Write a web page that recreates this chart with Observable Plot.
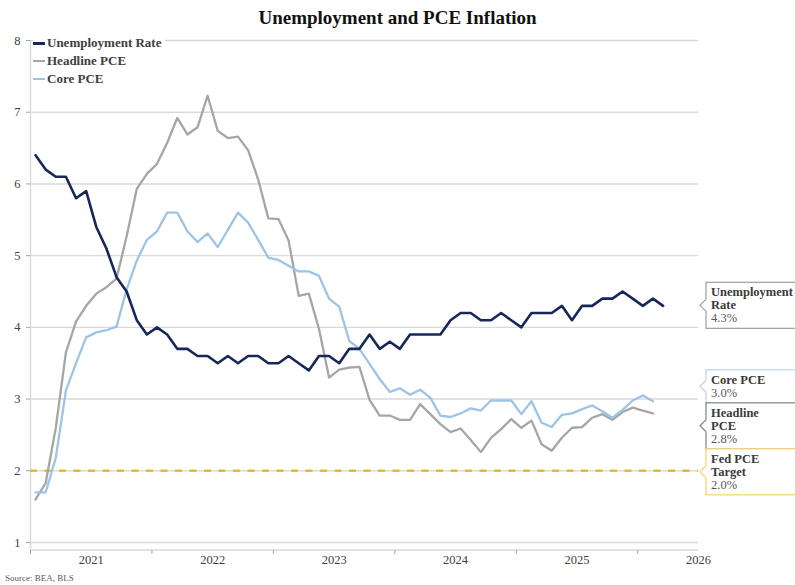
<!DOCTYPE html>
<html>
<head>
<meta charset="utf-8">
<script src="https://cdn.jsdelivr.net/npm/d3@7"></script>
<script src="https://cdn.jsdelivr.net/npm/@observablehq/plot@0.6"></script>
<style>
  body { margin: 0; background: #fff; }
  #wrap { position: relative; width: 795px; height: 585px; overflow: hidden; background: #fff;
          font-family: "Liberation Serif", "DejaVu Serif", serif; }
  #chart { position: absolute; left: 0; top: 0; }
  #title { position: absolute; top: 6px; left: 0; width: 795px; text-align: center; line-height: 24px;
           font-weight: bold; font-size: 19px; color: #111; }
  #legend { position: absolute; left: 33px; top: 34px; background: #fff; padding: 0 4px 0 0; }
  .row { display: flex; align-items: center; height: 18px; font-size: 13px; font-weight: bold; color: #404040; }
  .sw { width: 12px; margin-right: 2px; }
  #source { position: absolute; left: 5px; top: 572px; font-size: 9px; line-height: 12px; color: #595959; }
</style>
</head>
<body>
<div id="wrap">
  <div id="chart"></div>
  <div id="title">Unemployment and PCE Inflation</div>
  <div id="legend"></div>
  <div id="source">Source: BEA, BLS</div>
</div>
<script>
// ---- data (monthly, starting January 2021) ----
const startYear = 2021;
const axisMonths = 66;
const unemployment = [
  6.4, 6.2, 6.1, 6.1, 5.8, 5.9, 5.4, 5.1, 4.7, 4.5, 4.1, 3.9,
  4.0, 3.9, 3.7, 3.7, 3.6, 3.6, 3.5, 3.6, 3.5, 3.6, 3.6, 3.5,
  3.5, 3.6, 3.5, 3.4, 3.6, 3.6, 3.5, 3.7, 3.7, 3.9, 3.7, 3.8,
  3.7, 3.9, 3.9, 3.9, 3.9, 4.1, 4.2, 4.2, 4.1, 4.1, 4.2, 4.1,
  4.0, 4.2, 4.2, 4.2, 4.3, 4.1, 4.3, 4.3, 4.4, 4.4, 4.5, 4.4,
  4.3, 4.4, 4.3
];
const headlinePCE = [
  1.6, 1.83, 2.6, 3.65, 4.08, 4.3, 4.47, 4.56, 4.68, 5.27, 5.93, 6.14,
  6.28, 6.57, 6.92, 6.69, 6.79, 7.23, 6.74, 6.64, 6.66, 6.47, 6.06, 5.52,
  5.51, 5.21, 4.44, 4.47, 3.98, 3.3, 3.41, 3.44, 3.45, 2.99, 2.77, 2.77,
  2.71, 2.71, 2.93, 2.79, 2.65, 2.54, 2.59, 2.43, 2.26, 2.46, 2.58, 2.72,
  2.6, 2.7, 2.37, 2.28, 2.46, 2.6, 2.61, 2.74, 2.79, 2.71, 2.82, 2.88,
  2.84, 2.8
];
const corePCE = [
  1.7, 1.7, 2.18, 3.12, 3.5, 3.86, 3.93, 3.96, 4.01, 4.53, 4.93, 5.22,
  5.34, 5.6, 5.6, 5.34, 5.19, 5.31, 5.12, 5.36, 5.6, 5.46, 5.22, 4.97,
  4.94, 4.86, 4.78, 4.78, 4.72, 4.4, 4.29, 3.81, 3.7, 3.49, 3.28, 3.1,
  3.15, 3.06, 3.13, 3.02, 2.77, 2.75, 2.8, 2.87, 2.84, 2.98, 2.98, 2.98,
  2.79, 2.97, 2.67, 2.61, 2.78, 2.8, 2.86, 2.91, 2.83, 2.74, 2.85, 2.98,
  3.05, 2.97
];
const fedTarget = 2.0;
const yTicks = [1, 2, 3, 4, 5, 6, 7, 8];
const yearLabels = ["2021", "2022", "2023", "2024", "2025", "2026"];
const legendNames = ["Unemployment Rate", "Headline PCE", "Core PCE"];
const calloutNames = [["Unemployment", "Rate"], ["Core PCE"], ["Headline", "PCE"], ["Fed PCE", "Target"]];

// ---- styles ----
const navy = "#16285a", gray = "#a6a6a6", blue = "#9dc3e6", gold = "#f4b526";
const gridColor = "#d9d9d9";

const seriesList = [
  {name: legendNames[1], values: headlinePCE, color: gray, width: 2.3},
  {name: legendNames[2], values: corePCE, color: blue, width: 2.3},
  {name: legendNames[0], values: unemployment, color: navy, width: 2.6}
];

const last = (arr) => arr[arr.length - 1];
const callouts = [
  {lines: calloutNames[0], value: last(unemployment), color: "#a6a6a6"},
  {lines: calloutNames[1], value: last(corePCE), color: "#bdd7ee"},
  {lines: calloutNames[2], value: last(headlinePCE), color: "#8c8c8c"},
  {lines: calloutNames[3], value: fedTarget, color: "#f7d57a"}
];

// bottom axis line (frame bottom)
function bottomAxisLine(index, scales, values, dims) {
  const g = d3.create("svg:g");
  g.append("line")
    .attr("x1", dims.marginLeft).attr("x2", dims.width - dims.marginRight)
    .attr("y1", dims.height - dims.marginBottom).attr("y2", dims.height - dims.marginBottom)
    .attr("stroke", gridColor).attr("stroke-width", 1.4);
  return g.node();
}

// callout boxes on the right
function calloutMark(index, scales, values, dims) {
  const g = d3.create("svg:g").attr("text-anchor", "start");
  const xLeft = dims.width - dims.marginRight + 8;
  const lh = 13, pad = 10;
  const items = callouts.map((d) => {
    const n = d.lines.length + 1;
    return {...d, n, h: lh * (n - 1) + 2 * pad, c: scales.y(d.value)};
  }).sort((a, b) => a.c - b.c);
  for (let it = 0; it < 100; it++) {
    for (let i = 0; i < items.length - 1; i++) {
      const a = items[i], b = items[i + 1];
      const ov = (a.c + a.h / 2) - (b.c - b.h / 2);
      if (ov > 0) { a.c -= ov / 2; b.c += ov / 2; }
    }
  }
  for (const d of items) {
    const top = d.c - d.h / 2;
    g.append("rect").attr("x", xLeft).attr("y", top).attr("width", 140).attr("height", d.h)
      .attr("fill", "#fff").attr("stroke", d.color).attr("stroke-width", 1.3);
    g.append("path")
      .attr("d", `M${xLeft + 1},${d.c - 6}L${xLeft},${d.c - 6}L${xLeft - 6},${d.c}L${xLeft},${d.c + 6}L${xLeft + 1},${d.c + 6}Z`)
      .attr("fill", "#fff");
    g.append("path")
      .attr("d", `M${xLeft},${d.c - 6}L${xLeft - 6},${d.c}L${xLeft},${d.c + 6}`)
      .attr("fill", "none").attr("stroke", d.color).attr("stroke-width", 1.3);
    const texts = [...d.lines, d.value.toFixed(1) + "%"];
    texts.forEach((t, k) => {
      g.append("text")
        .attr("x", xLeft + 5).attr("y", top + pad + k * lh)
        .attr("dominant-baseline", "central")
        .attr("text-anchor", "start")
        .attr("font-size", 12.5)
        .attr("font-weight", k < texts.length - 1 ? "bold" : "normal")
        .attr("fill", k < texts.length - 1 ? "#3a3a3a" : "#595959")
        .text(t);
    });
  }
  return g.node();
}

const lineMarks = seriesList.map((s) =>
  Plot.line(s.values, {
    x: (d, i) => i + 0.5, y: (d) => d,
    stroke: s.color, strokeWidth: s.width, strokeLinejoin: "round", curve: "linear"
  })
);

const plot = Plot.plot({
  width: 795, height: 570,
  marginTop: 40, marginLeft: 30, marginRight: 97, marginBottom: 20,
  insetBottom: 8,
  x: {type: "linear", domain: [0, axisMonths]},
  y: {domain: [1, 8]},
  style: {fontFamily: "'Liberation Serif', serif", fontSize: "12.5px", color: "#404040", background: "#fff"},
  marks: [
    Plot.ruleY(yTicks, {stroke: gridColor, strokeWidth: 1.4}),
    Plot.ruleX([0], {stroke: gridColor, strokeWidth: 1.4}),
    bottomAxisLine,
    Plot.axisY({ticks: yTicks, tickFormat: d3.format("d"), tickSize: 4, tickPadding: 6, stroke: "#a6a6a6", fill: "#404040", label: null}),
    Plot.axisX({ticks: d3.range(0, axisMonths, 12), tickFormat: () => "", tickSize: 4, stroke: "#a6a6a6", label: null}),
    Plot.text(yearLabels, {
      x: (d, i) => Math.min(12 * i + 6, axisMonths), frameAnchor: "bottom", dy: 13,
      fill: "#404040", fontSize: 12.5, textAnchor: "middle"
    }),
    Plot.ruleY([fedTarget], {stroke: gold, strokeWidth: 2.6, strokeDasharray: "7,7.5"}),
    ...lineMarks,
    calloutMark
  ]
});
document.getElementById("chart").appendChild(plot);

// legend
const legend = document.getElementById("legend");
[
  {name: legendNames[0], color: navy, w: 3},
  {name: legendNames[1], color: gray, w: 2.5},
  {name: legendNames[2], color: blue, w: 2.5}
].forEach((d) => {
  const row = document.createElement("div");
  row.className = "row";
  const sw = document.createElement("span");
  sw.className = "sw";
  sw.style.height = d.w + "px";
  sw.style.background = d.color;
  const tx = document.createElement("span");
  tx.textContent = d.name;
  row.appendChild(sw);
  row.appendChild(tx);
  legend.appendChild(row);
});
</script>
</body>
</html>
